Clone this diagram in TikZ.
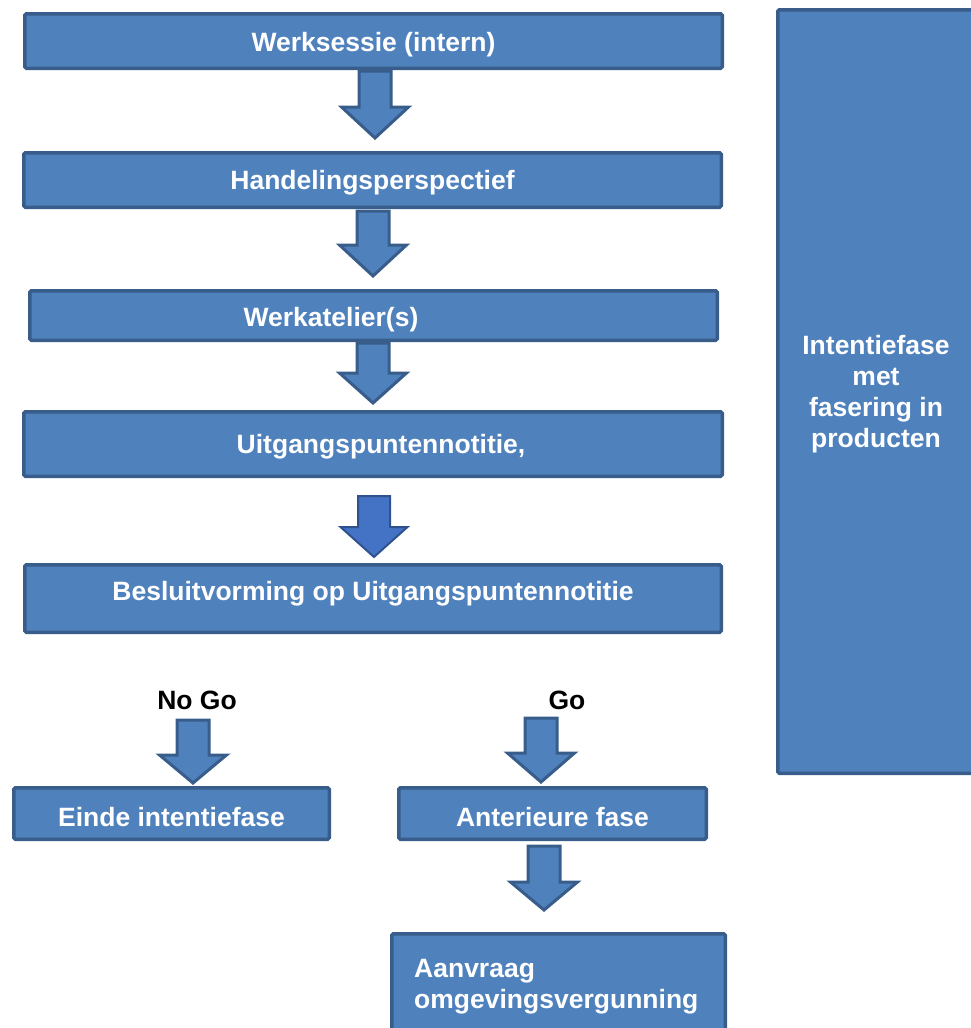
\documentclass[tikz,border=0pt]{standalone}
\usepackage{fontspec}
\setmainfont{Liberation Sans}
\definecolor{boxfill}{HTML}{4F81BD}
\definecolor{boxline}{HTML}{385D8A}
\definecolor{arrfill}{HTML}{4472C4}
\definecolor{arrline}{HTML}{2F528F}
\newcommand{\blockarr}[5][barrow]{%
  \draw[#1] (#2-16,#3) -- (#2-16,#4) -- (#2-33.5,#4) -- (#2,#5) -- (#2+33.5,#4) -- (#2+16,#4) -- (#2+16,#3) -- cycle;}
\begin{document}
\begin{tikzpicture}[x=1pt,y=-1pt,
  box/.style={draw=boxline, fill=boxfill, line width=3.5pt, rounded corners=1.5pt, inner sep=0pt},
  lbl/.style={text=white, font=\bfseries\fontsize{26.5}{31}\selectfont, align=center, inner sep=0pt},
  blk/.style={text=black, font=\bfseries\fontsize{26.5}{31}\selectfont, inner sep=0pt},
  barrow/.style={draw=boxline, fill=boxfill, line width=3pt, line join=miter},
  barrowB/.style={draw=arrline, fill=arrfill, line width=2pt, line join=miter}]
\useasboundingbox (0,0) rectangle (971,1028);
\clip (0,0) rectangle (971,1028);
% main column
\node[box, minimum width=697.5pt, minimum height=54.5pt] (b1) at (373.5,41) {};
\node[lbl] (t1) at (373.5,45) {Werksessie (intern)};
\node[box, minimum width=697.5pt, minimum height=54.5pt] (b2) at (372.5,180) {};
\node[lbl] (t2) at (372.5,183) {Handelingsperspectief};
\node[box, minimum width=687.5pt, minimum height=49.5pt] (b3) at (373.5,315.5) {};
\node[lbl] (t3) at (331,320) {Werkatelier(s)};
\node[box, minimum width=698.5pt, minimum height=64.5pt] (b4) at (373,444) {};
\node[lbl] (t4) at (381,447) {Uitgangspuntennotitie,};
\node[box, minimum width=696.5pt, minimum height=67.5pt] (b5) at (373,598.5) {};
\node[lbl] (t5) at (373,594) {Besluitvorming op Uitgangspuntennotitie};
% branches
\node[blk] (nogo) at (197,700) {No Go};
\node[blk] (go) at (567,700) {Go};
\node[box, minimum width=315.5pt, minimum height=51.5pt] (b6) at (171.5,813.5) {};
\node[lbl] (t6) at (171.5,817) {Einde intentiefase};
\node[box, minimum width=307.5pt, minimum height=51.5pt] (b7) at (552.5,813.5) {};
\node[lbl] (t7) at (552.5,817) {Anterieure fase};
\node[box, minimum width=333.5pt, minimum height=109.5pt] (b8) at (558.5,988.5) {};
\node[lbl, align=left, anchor=west] (t8) at (414,986.5) {Aanvraag\\omgevingsvergunning};
% right column
\node[box, minimum width=205.5pt, minimum height=763.5pt] (b9) at (880.5,391.5) {};
\node[lbl] (t9) at (876,394) {Intentiefase\\met\\fasering in\\producten};
% block arrows
\blockarr{375}{71}{107}{138}
\blockarr{373}{211}{245}{276}
\blockarr{373}{343}{373}{403}
\blockarr[barrowB]{374}{496}{527}{557}
\blockarr{193}{720}{755}{783}
\blockarr{541}{718}{753}{782}
\blockarr{544}{846}{882}{910}
\end{tikzpicture}
\end{document}
